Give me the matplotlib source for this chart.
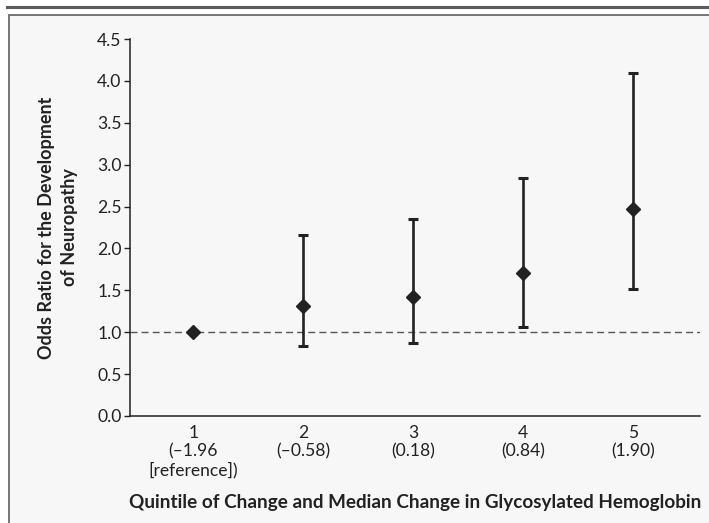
import numpy as np
import matplotlib.pyplot as plt
from matplotlib.patches import Rectangle
from matplotlib.lines import Line2D

plt.rcParams['font.family'] = ['Lato', 'DejaVu Sans']

# ---- data ----
quintiles = [1, 2, 3, 4, 5]
tick_labels = ['1\n(\u20131.96\n[reference])', '2\n(\u20130.58)', '3\n(0.18)',
               '4\n(0.84)', '5\n(1.90)']
odds = [1.00, 1.31, 1.42, 1.71, 2.47]
ci_low = [1.00, 0.84, 0.87, 1.06, 1.51]
ci_high = [1.00, 2.16, 2.35, 2.84, 4.10]

W, H = 709, 523
fig = plt.figure(figsize=(W / 100, H / 100), dpi=100)
fig.patch.set_facecolor('white')

# frame of the figure panel (runs off the bottom and right edges)
fig.patches.append(Rectangle((9 / W, -0.1), 1.1, 1.1 - 15 / H, transform=fig.transFigure,
                             facecolor='#f7f7f7', edgecolor='#6b6b6b', linewidth=1.3, zorder=-2))
fig.lines.append(Line2D([7 / W, 1], [1 - 7 / H, 1 - 7 / H], transform=fig.transFigure,
                        color='#5a5a5a', linewidth=2.2, zorder=-1))

ax = fig.add_axes([130 / W, 1 - 416 / H, 570 / W, 377 / H])
ax.set_facecolor('none')
ax.set_zorder(1)

ax.axhline(1.0, color='#555555', linewidth=1.0, dashes=(5, 3), zorder=1)

odds = np.array(odds)
yerr = np.vstack([odds - np.array(ci_low), np.array(ci_high) - odds])
has_bar = yerr.sum(axis=0) > 0
ax.errorbar(np.array(quintiles)[has_bar], odds[has_bar], yerr=yerr[:, has_bar], fmt='none',
            ecolor='#222222', elinewidth=1.9, capsize=3.3, capthick=2.2, zorder=3)
ax.plot(quintiles, odds, linestyle='none', marker='D', markersize=7.5,
        color='#222222', zorder=4)

ax.set_xlim(0.423, 5.61)
ax.set_ylim(0, 4.5)
ax.set_yticks(np.arange(0, 4.51, 0.5))
ax.set_yticklabels([f'{v:.1f}' for v in np.arange(0, 4.51, 0.5)])
ax.set_xticks(quintiles)
ax.set_xticklabels(tick_labels, linespacing=1.18)

for s in ['top', 'right']:
    ax.spines[s].set_visible(False)
for s in ['left', 'bottom']:
    ax.spines[s].set_color('#222222')
    ax.spines[s].set_linewidth(1.1)

ax.tick_params(axis='y', direction='out', length=4.5, width=1.0, pad=1.5,
               labelsize=12.6, colors='#222222')
ax.tick_params(axis='x', length=0, pad=6.5, labelsize=12.6, colors='#222222')

ax.set_ylabel('Odds Ratio for the Development\nof Neuropathy', fontsize=13,
              fontweight='bold', color='#222222', linespacing=1.4, labelpad=14)
ax.set_xlabel('Quintile of Change and Median Change in Glycosylated Hemoglobin',
              fontsize=13.6, fontweight='bold', color='#222222', labelpad=11)

fig.savefig('out.png', dpi=100)
